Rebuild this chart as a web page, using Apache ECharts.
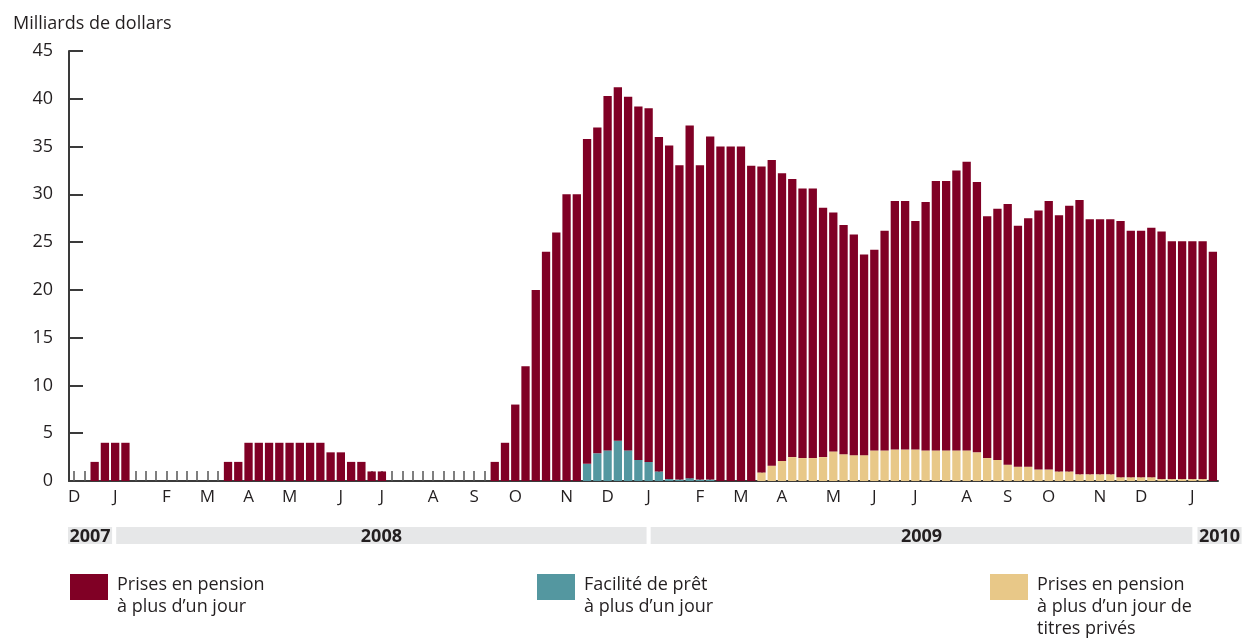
<!DOCTYPE html>
<html>
<head>
<meta charset="utf-8">
<title>Prises en pension</title>
<script src="https://cdn.jsdelivr.net/npm/echarts@6/dist/echarts.min.js"></script>
<style>
  html, body { margin: 0; padding: 0; background: #fff; }
  #chart { width: 1245px; height: 641px; }
</style>
</head>
<body>
<div id="chart"></div>
<script>
// semaines de déc. 2007 à janv. 2010 (112 semaines)
const monthStarts = [
  [0, 'D'], [4, 'J'], [9, 'F'], [13, 'M'], [17, 'A'], [21, 'M'], [26, 'J'], [30, 'J'],
  [35, 'A'], [39, 'S'], [43, 'O'], [48, 'N'], [52, 'D'], [56, 'J'], [61, 'F'], [65, 'M'],
  [69, 'A'], [74, 'M'], [78, 'J'], [82, 'J'], [87, 'A'], [91, 'S'], [95, 'O'], [100, 'N'],
  [104, 'D'], [109, 'J']
]

// Prises en pension à plus d'un jour
const redValues = [
  0, 0, 2, 4, 4, 4, 0, 0, 0, 0,
  0, 0, 0, 0, 0, 2, 2, 4, 4, 4,
  4, 4, 4, 4, 4, 3, 3, 2, 2, 1,
  1, 0, 0, 0, 0, 0, 0, 0, 0, 0,
  0, 2, 4, 8, 12, 20, 24, 26, 30, 30,
  34.0, 34.1, 37.1, 37.0, 37.0, 37.0, 37.0, 35.0, 34.9, 32.9,
  36.9, 32.9, 35.9, 35, 35, 35, 33, 32.0, 32.0, 30.1,
  29.1, 28.2, 28.2, 26.1, 25.0, 24.0, 23.1, 21.0, 21.0, 23.0,
  26.0, 26.0, 23.9, 26.0, 28.2, 28.2, 29.3, 30.2, 28.3, 25.3,
  26.3, 27.3, 25.2, 26.0, 27.1, 28.1, 26.8, 27.8, 28.7, 26.7,
  26.7, 26.7, 26.8, 25.8, 25.8, 26.1, 25.9, 24.9, 24.9, 24.9,
  24.9, 24.0
]

// Facilité de prêt à plus d'un jour
const tealValues = [
  0, 0, 0, 0, 0, 0, 0, 0, 0, 0,
  0, 0, 0, 0, 0, 0, 0, 0, 0, 0,
  0, 0, 0, 0, 0, 0, 0, 0, 0, 0,
  0, 0, 0, 0, 0, 0, 0, 0, 0, 0,
  0, 0, 0, 0, 0, 0, 0, 0, 0, 0,
  1.8, 2.9, 3.2, 4.2, 3.2, 2.2, 2.0, 1.0, 0.2, 0.15,
  0.3, 0.15, 0.15, 0, 0, 0, 0, 0, 0, 0,
  0, 0, 0, 0, 0, 0, 0, 0, 0, 0,
  0, 0, 0, 0, 0, 0, 0, 0, 0, 0,
  0, 0, 0, 0, 0, 0, 0, 0, 0, 0,
  0, 0, 0, 0, 0, 0, 0, 0, 0, 0,
  0, 0
]

// Prises en pension à plus d'un jour de titres privés
const beigeValues = [
  0, 0, 0, 0, 0, 0, 0, 0, 0, 0,
  0, 0, 0, 0, 0, 0, 0, 0, 0, 0,
  0, 0, 0, 0, 0, 0, 0, 0, 0, 0,
  0, 0, 0, 0, 0, 0, 0, 0, 0, 0,
  0, 0, 0, 0, 0, 0, 0, 0, 0, 0,
  0, 0, 0, 0, 0, 0, 0, 0, 0, 0,
  0, 0, 0, 0, 0, 0, 0, 0.9, 1.6, 2.1,
  2.5, 2.4, 2.4, 2.5, 3.1, 2.8, 2.7, 2.7, 3.2, 3.2,
  3.3, 3.3, 3.3, 3.2, 3.2, 3.2, 3.2, 3.2, 3.0, 2.4,
  2.2, 1.7, 1.5, 1.5, 1.2, 1.2, 1.0, 1.0, 0.7, 0.7,
  0.7, 0.7, 0.4, 0.4, 0.4, 0.4, 0.2, 0.2, 0.2, 0.2,
  0.2, 0
]

// bandes des années, en semaines
const yearNames = ['2007', '2008', '2009', '2010']
const yearFrom = [-0.6, 4.1, 56.2, 109.5]
const yearTo = [3.7, 55.8, 109.0, 113.8]

const names = {
  red: 'Prises en pension\nà plus d’un jour',
  teal: 'Facilité de prêt\nà plus d’un jour',
  beige: 'Prises en pension\nà plus d’un jour de\ntitres privés'
}

const FONT = "'Open Sans', 'Noto Sans', sans-serif"
const TEXT = '#231f20'
const LINE_H = 22

const weeks = redValues.map(() => '')
monthStarts.forEach(([i, m]) => { weeks[i] = m })

const chart = echarts.init(document.getElementById('chart'))

// pavé de légende aligné sur la première ligne du texte
const legendItem = (name, left) => {
  const h = name.split('\n').length * LINE_H
  return {
    data: [name],
    left,
    top: 574,
    padding: 0,
    orient: 'vertical',
    icon: 'path://M0,0H38V26H0Z M0,' + h + 'L0.01,' + h,
    itemWidth: 38,
    itemHeight: h,
    selectedMode: false,
    textStyle: {
      fontFamily: FONT,
      fontSize: 18,
      lineHeight: LINE_H,
      color: TEXT,
      padding: [0, 0, 0, 4]
    }
  }
}

chart.setOption({
  animation: false,
  textStyle: { fontFamily: FONT },
  title: {
    text: 'Milliards de dollars',
    left: 8,
    top: 10,
    textStyle: { fontFamily: FONT, fontSize: 18, fontWeight: 'normal', color: TEXT }
  },
  legend: [
    legendItem(names.red, 70),
    legendItem(names.teal, 537),
    legendItem(names.beige, 990)
  ],
  grid: [
    { left: 69, right: 27, top: 51, bottom: 160 },
    { left: 69, right: 27, top: 527, height: 17 }
  ],
  xAxis: [
    {
      type: 'category',
      data: weeks,
      axisLine: { lineStyle: { color: '#3a3a3a', width: 2 } },
      axisTick: { show: true, inside: true, length: 10, interval: 0, alignWithLabel: true, lineStyle: { color: '#555', width: 1.5 } },
      axisLabel: { interval: 0, color: TEXT, fontSize: 17, margin: 8, fontFamily: FONT }
    },
    {
      type: 'value',
      gridIndex: 1,
      min: -0.5,
      max: 111.5,
      show: false
    }
  ],
  yAxis: [
    {
      type: 'value',
      min: 0,
      max: 45,
      interval: 5,
      axisLine: { show: true, lineStyle: { color: '#3a3a3a', width: 2 } },
      axisTick: { show: true, inside: true, length: 14, lineStyle: { color: '#3a3a3a', width: 2 } },
      splitLine: { show: false },
      axisLabel: { color: TEXT, fontSize: 18, margin: 16, fontFamily: FONT, padding: [12, 0, 0, 0] }
    },
    {
      type: 'value',
      gridIndex: 1,
      min: 0,
      max: 1,
      show: false
    }
  ],
  series: [
    {
      name: names.teal,
      type: 'bar',
      stack: 'total',
      data: tealValues,
      barCategoryGap: '19%',
      itemStyle: { color: '#5497a0' }
    },
    {
      name: names.beige,
      type: 'bar',
      stack: 'total',
      data: beigeValues,
      barCategoryGap: '19%',
      itemStyle: { color: '#e8c888' }
    },
    {
      name: names.red,
      type: 'bar',
      stack: 'total',
      data: redValues,
      barCategoryGap: '19%',
      itemStyle: { color: '#800025' }
    },
    {
      type: 'custom',
      xAxisIndex: 1,
      yAxisIndex: 1,
      clip: false,
      silent: true,
      data: yearNames.map((y, i) => [yearFrom[i], yearTo[i]]),
      renderItem: (params, api) => {
        const p0 = api.coord([api.value(0), 0])
        const p1 = api.coord([api.value(1), 1])
        return {
          type: 'group',
          children: [
            {
              type: 'rect',
              shape: { x: p0[0], y: p1[1], width: p1[0] - p0[0], height: p0[1] - p1[1] },
              style: { fill: '#e6e7e8' }
            },
            {
              type: 'text',
              style: {
                text: yearNames[params.dataIndex],
                x: (p0[0] + p1[0]) / 2,
                y: (p0[1] + p1[1]) / 2 + 1,
                align: 'center',
                verticalAlign: 'middle',
                font: 'bold 18px ' + FONT,
                fill: TEXT
              }
            }
          ]
        }
      }
    }
  ]
})

window.addEventListener('resize', () => chart.resize())
</script>
</body>
</html>
